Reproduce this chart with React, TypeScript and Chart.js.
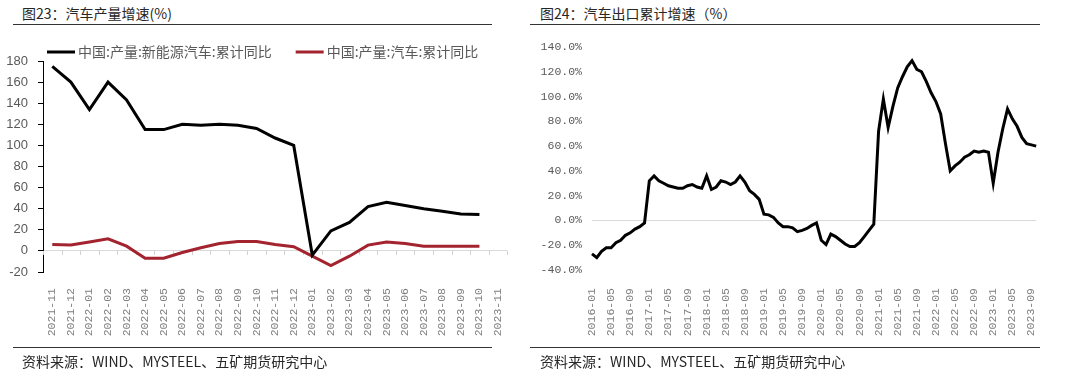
import React, { useEffect, useRef } from 'react';
import { Chart, registerables } from 'chart.js';

Chart.register(...registerables);

// ---------- Left chart: 汽车产量增速 ----------
const prodCategories = [
  '2021-11', '2021-12', '2022-01', '2022-02', '2022-03', '2022-04', '2022-05',
  '2022-06', '2022-07', '2022-08', '2022-09', '2022-10', '2022-11', '2022-12',
  '2023-01', '2023-02', '2023-03', '2023-04', '2023-05', '2023-06', '2023-07',
  '2023-08', '2023-09', '2023-10', '2023-11',
];
const nevProdLabel = '中国:产量:新能源汽车:累计同比';
const nevProdYoY = [
  175, 160, 134, 160, 143, 115, 115, 120, 119, 120, 119, 116, 107, 100,
  -4, 19, 27, 42, 46, 43, 40, 37.5, 35, 34.5,
];
const autoProdLabel = '中国:产量:汽车:累计同比';
const autoProdYoY = [
  6, 5.5, 8.5, 11.5, 4.5, -7, -7, -1.5, 3, 7, 9, 9, 6, 4,
  -5, -14, -5, 5.5, 8.5, 7, 4.5, 4.5, 4.5, 4.5,
];
const prodAxisMin = -20;
const prodAxisMax = 180;
const prodAxisStep = 20;

// ---------- Right chart: 汽车出口累计增速 ----------
const exportStartYear = 2016;
const exportMonthCount = 94; // 2016-01 .. 2023-10
const exportMonths: string[] = [];
for (let i = 0; i < exportMonthCount; i++) {
  const y = exportStartYear + Math.floor(i / 12);
  const m = (i % 12) + 1;
  exportMonths.push(`${y}-${m < 10 ? '0' + m : m}`);
}
const exportLabelEvery = 4;
const exportYoY = [
  // 2016
  -27, -30, -25, -22, -22, -18, -16, -12, -10, -7, -5, -2,
  // 2017
  32, 36, 32, 30, 28, 27, 26, 26, 28, 29, 27, 26,
  // 2018
  36, 25, 27, 32, 31, 29, 31, 36, 31, 24, 21, 17,
  // 2019
  5, 4.5, 2.5, -2, -5, -5, -6, -9, -8, -6.5, -4, -2,
  // 2020
  -16, -19.5, -11, -13, -16, -19, -21, -21, -18, -13, -8, -3,
  // 2021
  72, 98, 75, 92, 107, 116, 124, 129, 122, 120, 112, 103,
  // 2022
  96, 86, 62, 40, 44, 47, 51, 53, 56, 55, 56, 55,
  // 2023
  30, 55, 74, 90, 82, 76, 67, 62, 61, 60,
];
const exportAxisMin = -40;
const exportAxisMax = 140;
const exportAxisStep = 20;

const CJK = '"Noto Sans CJK SC", "Noto Sans", sans-serif';
const NARROW = '"Liberation Sans Narrow", "Liberation Sans", Arial, sans-serif';
const MONO = '"Liberation Mono", "DejaVu Sans Mono", monospace';

const lineLegend = {
  id: 'lineLegend',
  afterDraw(chart: any) {
    const { ctx, chartArea } = chart;
    ctx.save();
    ctx.font = `14px ${CJK}`;
    ctx.textBaseline = 'middle';
    let x = chartArea.left + 4;
    const y = chartArea.top - 9;
    chart.data.datasets.forEach((ds: any) => {
      ctx.strokeStyle = ds.borderColor;
      ctx.lineWidth = 3;
      ctx.beginPath();
      ctx.moveTo(x, y);
      ctx.lineTo(x + 28, y);
      ctx.stroke();
      x += 31;
      ctx.fillStyle = '#595959';
      ctx.fillText(ds.label, x, y);
      x += ctx.measureText(ds.label).width + 24;
    });
    ctx.restore();
  },
};

const zeroTicks = {
  id: 'zeroTicks',
  beforeDatasetsDraw(chart: any) {
    const { ctx } = chart;
    const xs = chart.scales.x;
    const ys = chart.scales.y;
    const y0 = ys.getPixelForValue(0);
    const n = chart.data.labels.length;
    const half = (xs.getPixelForValue(1) - xs.getPixelForValue(0)) / 2;
    ctx.save();
    ctx.strokeStyle = '#d0d0d0';
    ctx.lineWidth = 1;
    for (let i = 0; i <= n; i++) {
      const px = Math.round(xs.getPixelForValue(i) - half) + 0.5;
      ctx.beginPath();
      ctx.moveTo(px, y0);
      ctx.lineTo(px, y0 + 4);
      ctx.stroke();
    }
    ctx.restore();
  },
};

const zeroGrid = (c: any) =>
  c.tick && c.tick.value === 0 ? '#d9d9d9' : 'rgba(0,0,0,0)';

function ProductionChart() {
  const ref = useRef<HTMLCanvasElement>(null);
  useEffect(() => {
    const chart = new Chart(ref.current as HTMLCanvasElement, {
      type: 'line',
      data: {
        labels: prodCategories,
        datasets: [
          {
            label: nevProdLabel,
            data: nevProdYoY,
            borderColor: '#000000',
            borderWidth: 3,
            pointRadius: 0,
            tension: 0,
            fill: false,
          },
          {
            label: autoProdLabel,
            data: autoProdYoY,
            borderColor: '#a3232f',
            borderWidth: 3,
            pointRadius: 0,
            tension: 0,
            fill: false,
          },
        ],
      },
      options: {
        responsive: false,
        animation: false,
        devicePixelRatio: 1,
        layout: { padding: { top: 21, right: 10, bottom: 0, left: 0 } },
        plugins: { legend: { display: false }, tooltip: { enabled: false } },
        scales: {
          x: {
            type: 'category',
            offset: true,
            grid: { display: false },
            border: { display: false },
            ticks: {
              autoSkip: false,
              minRotation: 90,
              maxRotation: 90,
              padding: 8,
              color: '#7f7f7f',
              font: { family: MONO, size: 11.5 },
            },
            afterFit: (s: any) => {
              s.height = 78;
            },
          },
          y: {
            min: prodAxisMin,
            max: prodAxisMax,
            ticks: {
              stepSize: prodAxisStep,
              padding: 10,
              color: '#595959',
              font: { family: NARROW, size: 13 },
            },
            grid: {
              color: zeroGrid,
              tickColor: '#000000',
              tickLength: 5,
              lineWidth: 1,
            },
            border: { display: true, color: '#000000', width: 1 },
            afterFit: (s: any) => {
              s.width = 43;
            },
          },
        },
      },
      plugins: [lineLegend, zeroTicks],
    } as any);
    return () => chart.destroy();
  }, []);
  return (
    <canvas
      ref={ref}
      width={520}
      height={310}
      style={{ position: 'absolute', left: 0, top: 40, width: 520, height: 310 }}
    />
  );
}

function ExportChart() {
  const ref = useRef<HTMLCanvasElement>(null);
  useEffect(() => {
    const chart = new Chart(ref.current as HTMLCanvasElement, {
      type: 'line',
      data: {
        labels: exportMonths,
        datasets: [
          {
            label: '汽车出口累计同比',
            data: exportYoY,
            borderColor: '#000000',
            borderWidth: 3,
            pointRadius: 0,
            tension: 0,
            fill: false,
          },
        ],
      },
      options: {
        responsive: false,
        animation: false,
        devicePixelRatio: 1,
        layout: { padding: { top: 17, right: 10, bottom: 0, left: 0 } },
        plugins: { legend: { display: false }, tooltip: { enabled: false } },
        scales: {
          x: {
            type: 'category',
            offset: false,
            grid: { display: false },
            border: { display: false },
            ticks: {
              autoSkip: false,
              minRotation: 90,
              maxRotation: 90,
              padding: 10,
              color: '#7f7f7f',
              font: { family: MONO, size: 11.5 },
              callback: (_v: any, i: number) =>
                i % exportLabelEvery === 0 ? exportMonths[i] : '',
            },
            afterFit: (s: any) => {
              s.height = 70;
            },
          },
          y: {
            min: exportAxisMin,
            max: exportAxisMax,
            ticks: {
              stepSize: exportAxisStep,
              padding: 10,
              color: '#595959',
              font: { family: MONO, size: 11.5 },
              callback: (v: any) => Number(v).toFixed(1) + '%',
            },
            grid: { color: zeroGrid, drawTicks: false, lineWidth: 1 },
            border: { display: false },
            afterFit: (s: any) => {
              s.width = 62;
            },
          },
        },
      },
    } as any);
    return () => chart.destroy();
  }, []);
  return (
    <canvas
      ref={ref}
      width={530}
      height={310}
      style={{ position: 'absolute', left: 530, top: 30, width: 530, height: 310 }}
    />
  );
}

const titleStyle: React.CSSProperties = {
  position: 'absolute',
  top: 3,
  fontFamily: CJK,
  fontSize: 14,
  lineHeight: '20px',
  color: '#262626',
  whiteSpace: 'nowrap',
};
const footStyle: React.CSSProperties = {
  position: 'absolute',
  top: 351,
  fontFamily: CJK,
  fontSize: 14,
  lineHeight: '20px',
  color: '#262626',
  whiteSpace: 'nowrap',
};
const rule = (left: number, width: number, top: number): React.CSSProperties => ({
  position: 'absolute',
  left,
  width,
  top,
  height: 1,
  background: '#333333',
});

export default function App() {
  return (
    <div
      style={{
        position: 'fixed',
        left: 0,
        top: 0,
        width: 1080,
        height: 377,
        background: '#ffffff',
        overflow: 'hidden',
      }}
    >
      <div style={{ ...titleStyle, left: 22 }}>图23：汽车产量增速(%)</div>
      <div style={rule(13, 479, 24)} />
      <div style={{ ...titleStyle, left: 540 }}>图24：汽车出口累计增速（%）</div>
      <div style={rule(530, 510, 24)} />
      <ProductionChart />
      <ExportChart />
      <div style={rule(13, 479, 347)} />
      <div style={{ ...footStyle, left: 22 }}>资料来源：WIND、MYSTEEL、五矿期货研究中心</div>
      <div style={rule(530, 510, 347)} />
      <div style={{ ...footStyle, left: 540 }}>资料来源：WIND、MYSTEEL、五矿期货研究中心</div>
    </div>
  );
}
